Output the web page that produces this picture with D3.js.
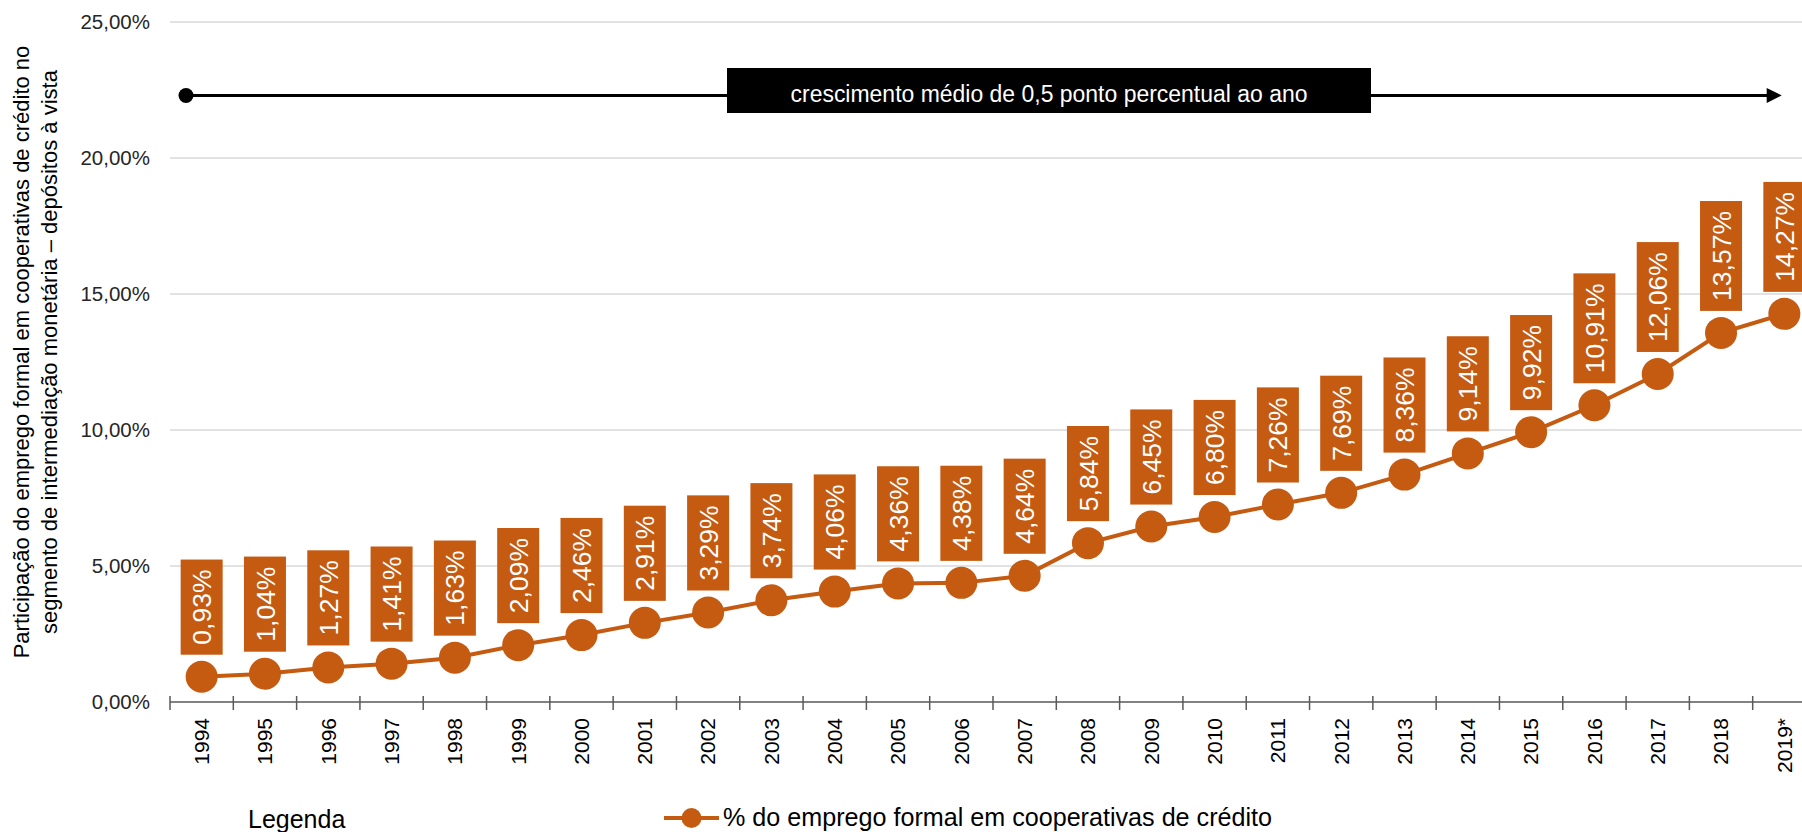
<!DOCTYPE html>
<html><head><meta charset="utf-8">
<script src="https://cdn.jsdelivr.net/npm/d3@7"></script>
<style>
html,body{margin:0;padding:0;background:#fff;overflow:hidden}
text{font-family:"Liberation Sans",Arial,sans-serif}
</style></head>
<body>
<svg id="chart" width="1802" height="832"></svg>
<script>
const years = ["1994","1995","1996","1997","1998","1999","2000","2001","2002","2003","2004","2005","2006","2007","2008","2009","2010","2011","2012","2013","2014","2015","2016","2017","2018","2019*"];
const values = [0.93,1.04,1.27,1.41,1.63,2.09,2.46,2.91,3.29,3.74,4.06,4.36,4.38,4.64,5.84,6.45,6.80,7.26,7.69,8.36,9.14,9.92,10.91,12.06,13.57,14.27];
const yTicks = [0,5,10,15,20,25];
const seriesName = "% do emprego formal em cooperativas de crédito";
const annotationText = "crescimento médio de 0,5 ponto percentual ao ano";
const annotationLevel = 22.3;
const yTitle1 = "Participação do emprego formal em cooperativas de crédito no";
const yTitle2 = "segmento de intermediação monetária – depósitos à vista";

const orange = "#C55A11";
const svg = d3.select("#chart");
const x = d3.scaleBand().domain(years).range([170, 1816]).padding(0);
const y = d3.scaleLinear().domain([0, 25]).range([702, 22]);
const fmt = v => v.toFixed(2).replace(".", ",") + "%";

// gridlines
svg.append("g").selectAll("line").data(yTicks.filter(t => t > 0)).join("line")
  .attr("x1", 170).attr("x2", 1802)
  .attr("y1", d => y(d)).attr("y2", d => y(d))
  .attr("stroke", "#d9d9d9").attr("stroke-width", 1.3);

// y labels
svg.append("g").selectAll("text").data(yTicks).join("text")
  .attr("x", 150).attr("y", d => y(d)).attr("dy", "0.35em")
  .attr("text-anchor", "end").attr("font-size", 20.5).attr("fill", "#262626")
  .text(d => d.toFixed(2).replace(".", ",") + "%");

// x axis
const xAxis = svg.append("g").attr("transform", `translate(0,${y(0)})`);
xAxis.append("line").attr("x1", 170).attr("x2", 1802).attr("stroke", "#595959").attr("stroke-width", 1.5);
const bounds = years.map(d => x(d));
xAxis.selectAll("line.tk").data(bounds).join("line").attr("class", "tk")
  .attr("x1", d => d).attr("x2", d => d).attr("y1", -6).attr("y2", 8)
  .attr("stroke", "#595959").attr("stroke-width", 1.5);
xAxis.selectAll("text").data(years).join("text")
  .attr("transform", d => `translate(${x(d) + x.bandwidth() / 2},16) rotate(-90)`)
  .attr("text-anchor", "end").attr("dy", "0.35em")
  .attr("font-size", 21).attr("fill", "#000").text(d => d);

// y title
const yt = svg.append("text").attr("transform", "translate(0,352) rotate(-90)")
  .attr("text-anchor", "middle").attr("font-size", 22).attr("fill", "#000");
yt.append("tspan").attr("x", 0).attr("y", 29).text(yTitle1);
yt.append("tspan").attr("x", 0).attr("y", 57).text(yTitle2);

// annotation arrow
const ay = y(annotationLevel);
const ax0 = x(years[0]) + 16, ax1 = x(years[years.length - 1]) + 29;
svg.append("line").attr("x1", ax0).attr("x2", ax1 - 10).attr("y1", ay).attr("y2", ay)
  .attr("stroke", "#000").attr("stroke-width", 3);
svg.append("circle").attr("cx", ax0).attr("cy", ay).attr("r", 7.5).attr("fill", "#000");
svg.append("path").attr("d", `M${ax1},${ay} L${ax1 - 15},${ay - 7.5} L${ax1 - 15},${ay + 7.5} Z`).attr("fill", "#000");
svg.append("rect").attr("x", 727).attr("y", 68).attr("width", 644).attr("height", 45).attr("fill", "#000");
svg.append("text").attr("x", 1049).attr("y", 101.5).attr("text-anchor", "middle")
  .attr("font-size", 23).attr("fill", "#fff")
  .attr("textLength", 517).attr("lengthAdjust", "spacingAndGlyphs").text(annotationText);

// series line
const cx = d => x(d) + x.bandwidth() / 2;
svg.append("path").datum(years.map((d, i) => [cx(d), y(values[i])]))
  .attr("d", d3.line()).attr("fill", "none").attr("stroke", orange).attr("stroke-width", 4);
svg.append("g").selectAll("circle").data(years).join("circle")
  .attr("cx", d => cx(d)).attr("cy", (d, i) => y(values[i])).attr("r", 16).attr("fill", orange);

// data labels
const lg = svg.append("g");
years.forEach((d, i) => {
  const g = lg.append("g");
  const bottom = y(values[i]) - 22;
  const t = g.append("text").attr("font-size", 26.5).attr("fill", "#fff").text(fmt(values[i]));
  const len = t.node().getComputedTextLength();
  const h = len + 20;
  g.insert("rect", "text").attr("x", cx(d) - 21).attr("y", bottom - h).attr("width", 42).attr("height", h).attr("fill", orange);
  t.attr("transform", `translate(${cx(d)},${bottom - h / 2}) rotate(-90)`)
    .attr("text-anchor", "middle").attr("dy", "0.36em");
});

// legend
svg.append("text").attr("x", 248).attr("y", 828).attr("font-size", 25).attr("fill", "#000").text("Legenda");
svg.append("line").attr("x1", 664).attr("x2", 719).attr("y1", 818).attr("y2", 818).attr("stroke", orange).attr("stroke-width", 4);
svg.append("circle").attr("cx", 691.5).attr("cy", 818).attr("r", 10).attr("fill", orange);
svg.append("text").attr("x", 723).attr("y", 826).attr("font-size", 26).attr("fill", "#000")
  .attr("textLength", 549).attr("lengthAdjust", "spacingAndGlyphs").text(seriesName);
</script>
</body></html>
